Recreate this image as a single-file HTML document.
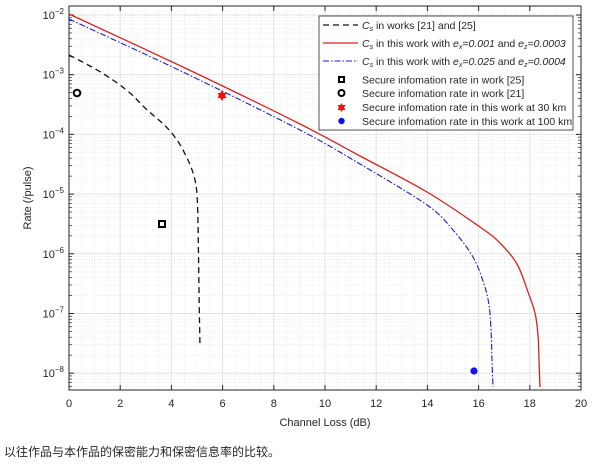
<!DOCTYPE html>
<html><head><meta charset="utf-8"><style>
html,body{margin:0;padding:0;background:#fff;width:600px;height:468px;overflow:hidden}
svg{display:block}
text{font-family:"Liberation Sans","Noto Sans CJK SC",sans-serif;fill:#262626}
</style></head><body>
<svg id="s" width="600" height="468" xmlns="http://www.w3.org/2000/svg">
<g id="grid"></g>
<rect x="69" y="6" width="512" height="384" fill="none" stroke="#262626" stroke-width="1"/>
<g id="ticks"></g>
<path id="red" fill="none" stroke="#d62020" stroke-width="1.3"/>
<path id="blue" fill="none" stroke="#1a1acc" stroke-width="1.1" stroke-dasharray="6,2,1.5,2"/>
<path id="blk" fill="none" stroke="#111" stroke-width="1.3" stroke-dasharray="6,4"/>
<!-- markers -->
<circle cx="77" cy="93" r="3.3" fill="none" stroke="#000" stroke-width="2"/>
<rect x="159" y="221" width="6" height="6" fill="none" stroke="#000" stroke-width="2"/>
<g fill="#ee1111"><polygon points="222,90 226.5,98 217.5,98"/><polygon points="222,101 226.5,93 217.5,93"/></g>
<circle cx="474" cy="371" r="3.6" fill="#1010ee"/>
<!-- legend -->
<rect x="319" y="16" width="254" height="114" fill="#fff" stroke="#262626" stroke-width="0.8"/>
<line x1="323" y1="25" x2="358" y2="25" stroke="#111" stroke-width="1.3" stroke-dasharray="6,4"/>
<line x1="323" y1="43" x2="358" y2="43" stroke="#d62020" stroke-width="1.3"/>
<line x1="323" y1="61" x2="358" y2="61" stroke="#1a1acc" stroke-width="1.1" stroke-dasharray="6,2,1.5,2"/>
<rect x="339" y="77" width="5" height="5" fill="none" stroke="#000" stroke-width="2"/>
<circle cx="341.5" cy="93" r="3" fill="none" stroke="#000" stroke-width="2"/>
<g fill="#ee1111"><polygon points="341.5,103 345.5,110 337.5,110"/><polygon points="341.5,112 345.5,105 337.5,105"/></g>
<circle cx="341.5" cy="121" r="3.2" fill="#1010ee"/>
<g font-size="10.5">
<text x="362" y="29"><tspan font-style="italic">C</tspan><tspan font-size="7" font-style="italic" dy="2">s</tspan><tspan dy="-2"> in works [21] and [25]</tspan></text>
<text x="362" y="47"><tspan font-style="italic">C</tspan><tspan font-size="7" font-style="italic" dy="2">s</tspan><tspan dy="-2"> in this work with </tspan><tspan font-style="italic">e</tspan><tspan font-size="7" font-style="italic" dy="2">x</tspan><tspan dy="-2" font-style="italic">=0.001</tspan><tspan> and </tspan><tspan font-style="italic">e</tspan><tspan font-size="7" font-style="italic" dy="2">z</tspan><tspan dy="-2" font-style="italic">=0.0003</tspan></text>
<text x="362" y="65"><tspan font-style="italic">C</tspan><tspan font-size="7" font-style="italic" dy="2">s</tspan><tspan dy="-2"> in this work with </tspan><tspan font-style="italic">e</tspan><tspan font-size="7" font-style="italic" dy="2">x</tspan><tspan dy="-2" font-style="italic">=0.025</tspan><tspan> and </tspan><tspan font-style="italic">e</tspan><tspan font-size="7" font-style="italic" dy="2">z</tspan><tspan dy="-2" font-style="italic">=0.0004</tspan></text>
<text x="362" y="83.5">Secure infomation rate in work [25]</text>
<text x="362" y="97">Secure infomation rate in work [21]</text>
<text x="362" y="111">Secure infomation rate in this work at 30 km</text>
<text x="362" y="125">Secure infomation rate in this work at 100 km</text>
</g>
<g id="labels" font-size="11"></g>
<text x="325" y="426" font-size="11" text-anchor="middle">Channel Loss (dB)</text>
<text transform="translate(31,198) rotate(-90)" font-size="11" text-anchor="middle">Rate (/pulse)</text>
<text x="4" y="456" font-size="12">以往作品与本作品的保密能力和保密信息率的比较。</text>
</svg>
<script>
var NS="http://www.w3.org/2000/svg",g=document.getElementById("grid"),t=document.getElementById("ticks"),lb=document.getElementById("labels");
function el(p,n,a){var e=document.createElementNS(NS,n);for(var k in a)e.setAttribute(k,a[k]);p.appendChild(e);return e;}
var L=69,R=581,T=6,B=390;
function X(v){return L+v*25.6}
function Y(e){return 15+(-2-e)*59.7}
for(var v=0.5;v<20;v+=0.5){var x=X(v);if(v%2==0){el(g,"line",{x1:x,x2:x,y1:T,y2:B,stroke:"#e3e3e3","stroke-width":1});}else el(g,"line",{x1:x,x2:x,y1:T,y2:B,stroke:"#e0e0e0","stroke-width":0.6,"stroke-dasharray":"1,1.5"});}
for(var d=-9;d<=-2;d++){for(var m=1;m<10;m++){var y=Y(d+Math.log10(m));if(y<T||y>B)continue;
 if(m==1){el(g,"line",{x1:L,x2:R,y1:y,y2:y,stroke:"#e3e3e3","stroke-width":1});el(t,"line",{x1:L,x2:L+5,y1:y,y2:y,stroke:"#262626"});el(t,"line",{x1:R,x2:R-5,y1:y,y2:y,stroke:"#262626"});
  var tx=el(lb,"text",{x:L-5,y:y+4,"text-anchor":"end"});tx.textContent="10";var s=el(tx,"tspan",{dy:-5,"font-size":8});s.textContent="−"+(-d);}
 else{el(g,"line",{x1:L,x2:R,y1:y,y2:y,stroke:"#e0e0e0","stroke-width":0.6,"stroke-dasharray":"1,1.5"});el(t,"line",{x1:L,x2:L+3,y1:y,y2:y,stroke:"#262626","stroke-width":0.7});el(t,"line",{x1:R,x2:R-3,y1:y,y2:y,stroke:"#262626","stroke-width":0.7});}}}
for(var v=0;v<=20;v+=2){var x=X(v);el(t,"line",{x1:x,x2:x,y1:B,y2:B-5,stroke:"#262626"});el(t,"line",{x1:x,x2:x,y1:T,y2:T+5,stroke:"#262626"});var tx=el(lb,"text",{x:x,y:407,"text-anchor":"middle"});tx.textContent=v;}
function cr(p){var d="M"+p[0][0]+","+p[0][1];for(var i=0;i<p.length-1;i++){var p0=p[i-1]||p[i],p1=p[i],p2=p[i+1],p3=p[i+2]||p2;
 var c1x=p1[0]+(p2[0]-p0[0])/6,c1y=p1[1]+(p2[1]-p0[1])/6,c2x=p2[0]-(p3[0]-p1[0])/6,c2y=p2[1]-(p3[1]-p1[1])/6;
 d+=" C"+c1x.toFixed(1)+","+c1y.toFixed(1)+" "+c2x.toFixed(1)+","+c2y.toFixed(1)+" "+p2[0]+","+p2[1];}return d;}
document.getElementById("red").setAttribute("d",cr([[69,14],[185,68],[300,124],[360,156],[427,192],[480,227],[500,243],[517,264],[528,292],[535,313],[538,335],[539,360],[540,387]]));
document.getElementById("blue").setAttribute("d",cr([[69,19],[185,73],[300,130],[360,164],[427,205],[453,230],[473,257],[484,284],[489,305],[491,330],[492,360],[493,387]]));
document.getElementById("blk").setAttribute("d",cr([[69,55],[90,66],[110,78],[130,93],[145,108],[160,121],[170,131],[179,143],[186,156],[191,167],[195,180],[197,195],[198,223],[199,290],[200,347]]));
</script>
</body></html>
